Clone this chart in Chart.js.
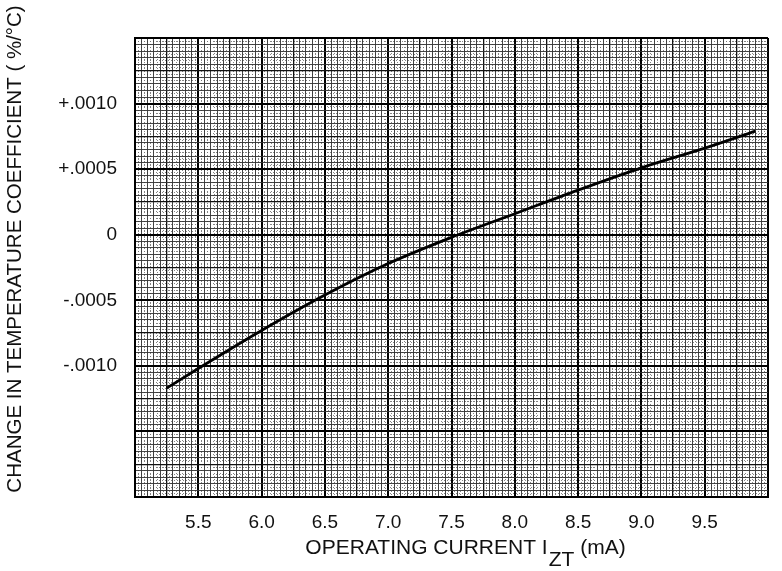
<!DOCTYPE html>
<html>
<head>
<meta charset="utf-8">
<script src="https://cdn.jsdelivr.net/npm/chart.js@4.4.1/dist/chart.umd.min.js"></script>
<style>
    html, body { margin: 0; padding: 0; background: #fff; overflow: hidden; }
    #wrap { position: relative; width: 782px; height: 571px; }
    canvas { display: block; }
</style>
</head>
<body>
<div id="wrap"><canvas id="tc-chart"></canvas></div>
<script>
// Datos
const currentMA = [5.25, 5.5, 6.0, 6.5, 7.0, 7.5, 8.0, 8.5, 9.0, 9.5, 9.9];
const tempCoeff = [-0.00117, -0.00102, -0.00073, -0.00046, -0.00022, -0.00002, 0.00016, 0.00034, 0.00051, 0.00066, 0.00079];

// Etiquetas de los ejes
const xTickValues = [5.5, 6.0, 6.5, 7.0, 7.5, 8.0, 8.5, 9.0, 9.5];
const yTickValues = [0.0010, 0.0005, 0, -0.0005, -0.0010];
const xRange = [5.0, 10.0];
const yRange = [-0.0020, 0.0015];

const FONT = '"Liberation Sans", Arial, Helvetica, sans-serif';

function fmtY(v) {
    if (Math.abs(v) < 1e-9) return '0';
    const n = Math.round(Math.abs(v) * 10000); // .0005 -> 5, .0010 -> 10
    return (v > 0 ? '+' : '-') + '.' + String(n).padStart(4, '0');
}

// estilo de la rejilla (papel milimetrado)
function gridStyle(idx, color) {
    if (idx % 10 === 0) return color ? '#000' : 2;
    if (idx % 5 === 0) return color ? '#111' : 1.3;
    return color ? '#333' : 0.9;
}

const titlesPlugin = {
    id: 'titles',
    afterDraw(chart) {
        const ctx = chart.ctx;
        ctx.save();
        ctx.fillStyle = '#111';
        ctx.textBaseline = 'alphabetic';

        // eje x con subíndice
        const a = 'OPERATING CURRENT I';
        const sub = 'ZT';
        const b = ' (mA)';
        ctx.font = '21px ' + FONT;
        const wa = ctx.measureText(a).width;
        const ws = ctx.measureText(sub).width;
        const wb = ctx.measureText(b).width;
        let x = 465 - (wa + ws + wb) / 2;
        const y = 554;
        ctx.textAlign = 'left';
        ctx.fillText(a, x, y);
        x += wa + 1;
        ctx.fillText(sub, x, y + 12);
        x += ws;
        ctx.fillText(b, x, y);

        // eje y
        ctx.translate(21, 249);
        ctx.rotate(-Math.PI / 2);
        ctx.textAlign = 'center';
        ctx.font = '20.5px ' + FONT;
        ctx.fillText('CHANGE IN TEMPERATURE COEFFICIENT ( %/°C)', 0, 0);
        ctx.restore();
    },
};

const hiddenAxis = (min, max, step, pos) => ({
    type: 'linear',
    position: pos,
    min,
    max,
    z: -1,
    ticks: { display: false, stepSize: step },
    grid: { color: '#777', lineWidth: 0.9, drawTicks: false },
    border: { display: false, dash: [1, 2] },
    afterFit: (scale) => {
        if (pos === 'left') scale.width = 0;
        else scale.height = 0;
    },
});

new Chart(document.getElementById('tc-chart').getContext('2d'), {
    type: 'scatter',
    data: {
        datasets: [
            {
                data: currentMA.map((x, i) => ({ x, y: tempCoeff[i] })),
                showLine: true,
                borderColor: '#000',
                borderWidth: 2.8,
                pointRadius: 0,
                cubicInterpolationMode: 'monotone',
            },
        ],
    },
    options: {
        responsive: true,
        maintainAspectRatio: false,
        animation: false,
        layout: { padding: { top: 38, right: 2, left: 0, bottom: 0 } },
        plugins: { legend: { display: false }, tooltip: { enabled: false } },
        scales: {
            x2: hiddenAxis(xRange[0], xRange[1], 0.025, 'bottom'),
            y2: hiddenAxis(yRange[0], yRange[1], 0.000025, 'left'),
            x: {
                type: 'linear',
                position: 'bottom',
                min: xRange[0],
                max: xRange[1],
                afterFit: (scale) => { scale.height = 74; },
                ticks: {
                    stepSize: 0.05,
                    autoSkip: false,
                    maxRotation: 0,
                    padding: 14,
                    color: '#111',
                    font: { family: FONT, size: 19 },
                    callback: (value) => {
                        const hit = xTickValues.find((t) => Math.abs(t - value) < 1e-6);
                        return hit !== undefined ? hit.toFixed(1) : '';
                    },
                },
                grid: {
                    drawTicks: false,
                    color: (c) => gridStyle(Math.round((c.tick ? c.tick.value : 0) * 20), true),
                    lineWidth: (c) => gridStyle(Math.round((c.tick ? c.tick.value : 0) * 20), false),
                },
                border: { color: '#000', width: 2 },
            },
            y: {
                type: 'linear',
                position: 'left',
                min: yRange[0],
                max: yRange[1],
                afterFit: (scale) => { scale.width = 135; },
                ticks: {
                    stepSize: 0.00005,
                    autoSkip: false,
                    padding: 18,
                    color: '#111',
                    font: { family: FONT, size: 19 },
                    callback: (value) => {
                        const hit = yTickValues.find((t) => Math.abs(t - value) < 1e-8);
                        return hit !== undefined ? fmtY(hit) : '';
                    },
                },
                grid: {
                    drawTicks: false,
                    color: (c) => gridStyle(Math.round((c.tick ? c.tick.value : 0) * 20000), true),
                    lineWidth: (c) => gridStyle(Math.round((c.tick ? c.tick.value : 0) * 20000), false),
                },
                border: { color: '#000', width: 2 },
            },
        },
    },
    plugins: [titlesPlugin],
});
</script>
</body>
</html>
